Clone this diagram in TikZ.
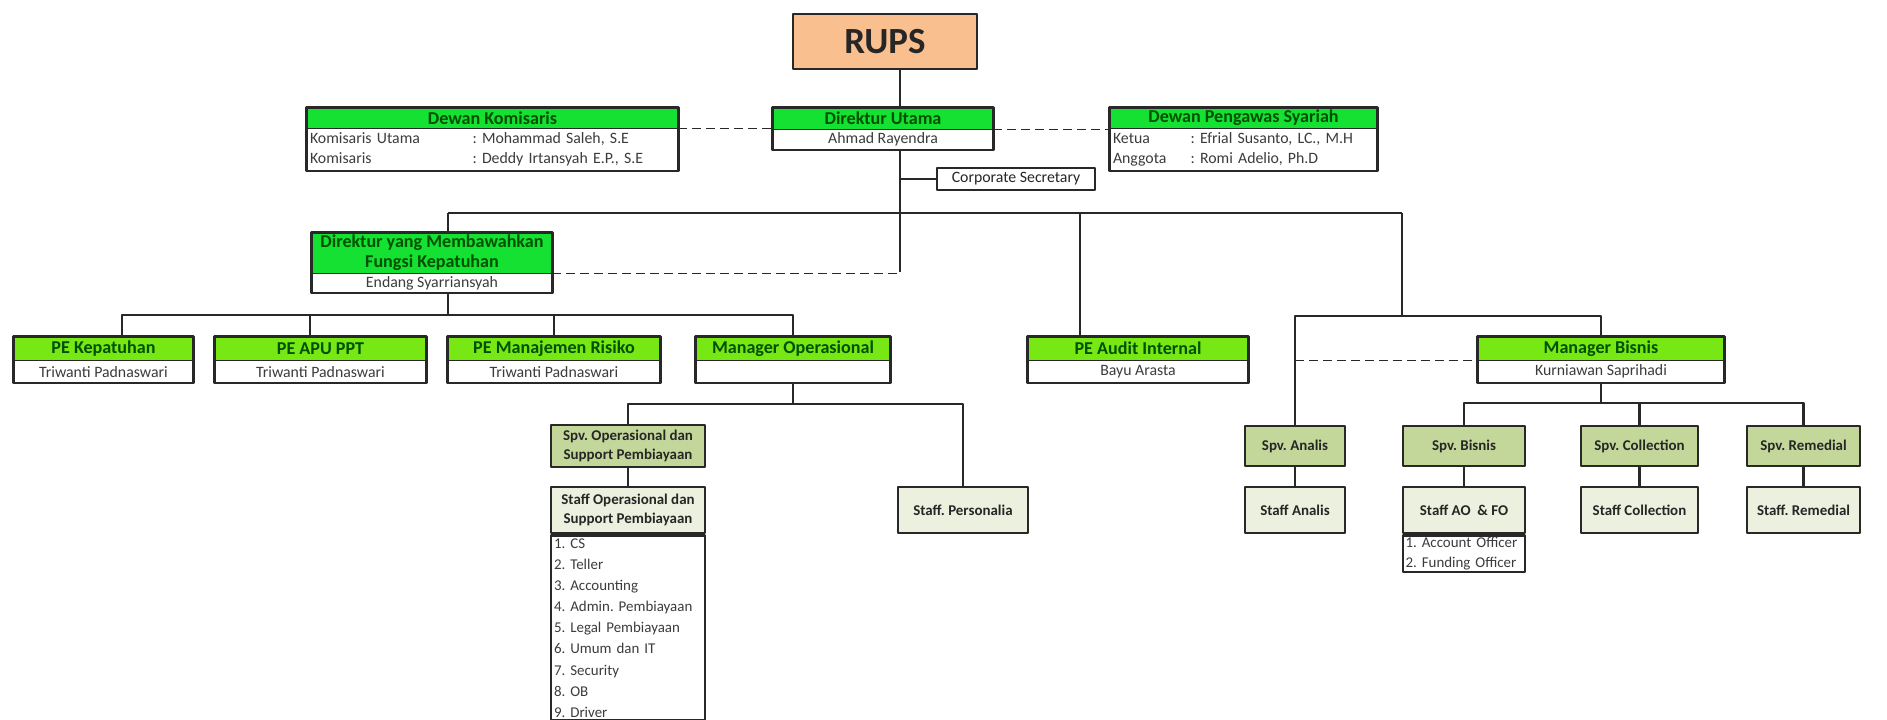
\documentclass[tikz,border=0pt]{standalone}
\usepackage{fontspec}
\setmainfont{Carlito}
\usetikzlibrary{positioning}
\definecolor{oranye}{HTML}{FABF8F}
\definecolor{hijautua}{RGB}{20,225,50}
\definecolor{hijaumuda}{RGB}{120,232,20}
\definecolor{zaitun}{HTML}{C4D79B}
\definecolor{pucat}{HTML}{EBF1DE}
\definecolor{teksijau}{RGB}{0,80,0}
\definecolor{garis}{RGB}{40,40,40}
\definecolor{teksabu}{RGB}{60,60,60}
\frenchspacing

\begin{document}
\begin{tikzpicture}[x=0.02cm, y=-0.02cm, line join=round,
    kepala/.style={draw=garis, line width=0.4pt, inner sep=0pt, text=teksijau,
        font=\fontsize{10.3}{11.4}\selectfont\bfseries, align=center},
    isi/.style={draw=garis, line width=0.4pt, fill=white, inner sep=0pt, text=teksabu,
        font=\fontsize{9}{10}\selectfont},
    spv/.style={draw=garis, line width=1.6pt, fill=zaitun, inner sep=0pt, text=black!85,
        font=\fontsize{8.5}{10.5}\selectfont\bfseries, align=center},
    staf/.style={draw=garis, line width=1.6pt, fill=pucat, inner sep=0pt, text=black!85,
        font=\fontsize{8.5}{10.5}\selectfont\bfseries, align=center},
    bingkai/.style={draw=garis, line width=1.6pt},
    hubung/.style={draw=garis, line width=1.5pt},
    putus/.style={draw=garis, line width=0.9pt, dash pattern=on 0.18cm off 0.1cm}]

    % Define page frame
    \useasboundingbox (0,0) rectangle (1887,720);
    \fill[white] (0,0) rectangle (1887,720);

    % Define spine and bus points
    \coordinate (spine) at (900,0);
    \coordinate (spinebawah) at (900,272);
    \coordinate (busL) at (448,213);
    \coordinate (busR) at (1402,213);
    \coordinate (auditx) at (1080,213);
    \coordinate (rbus) at (1402,316);
    \coordinate (lv2) at (448,315);
    \coordinate (kepx) at (122,315);
    \coordinate (apux) at (310,315);
    \coordinate (opsbus) at (793,404);
    \coordinate (bbus) at (1601,403);

    % RUPS
    \node[draw=garis, line width=1.6pt, fill=oranye, minimum width=3.68cm, minimum height=1.1cm,
        font=\fontsize{21}{21}\selectfont\bfseries, text=black!85] (rups) at (885,41.5) {RUPS};

    % Direktur Utama
    \node[kepala, fill=hijautua, minimum width=4.4cm, minimum height=0.42cm] (duh) at (883,118.5) {Direktur Utama};
    \node[isi, below=0pt of duh, minimum width=4.4cm, minimum height=0.4cm] (dub) {Ahmad Rayendra};
    \draw[bingkai] (duh.north west) rectangle (dub.south east);

    % Dewan Komisaris
    \node[kepala, fill=hijautua, minimum width=7.42cm, minimum height=0.4cm] (dkh) at (492.5,118) {Dewan Komisaris};
    \node[isi, below=0pt of dkh, minimum width=7.42cm, minimum height=0.84cm, text width=7.3cm, align=left,
        font=\fontsize{9}{11.3}\selectfont] (dkb)
        {\makebox[3.25cm][l]{Komisaris Utama}: Mohammad Saleh, S.E\\
         \makebox[3.25cm][l]{Komisaris}: Deddy Irtansyah E.P., S.E};
    \draw[bingkai] (dkh.north west) rectangle (dkb.south east);

    % Dewan Pengawas Syariah
    \node[kepala, fill=hijautua, minimum width=5.34cm, minimum height=0.4cm] (dpsh) at (1243.5,118) {Dewan Pengawas Syariah};
    \node[isi, below=0pt of dpsh, minimum width=5.34cm, minimum height=0.84cm, text width=5.22cm, align=left,
        font=\fontsize{9}{11.3}\selectfont] (dpsb)
        {\makebox[1.55cm][l]{Ketua}: Efrial Susanto, LC., M.H\\
         \makebox[1.55cm][l]{Anggota}: Romi Adelio, Ph.D};
    \draw[bingkai] (dpsh.north west) rectangle (dpsb.south east);

    % Corporate Secretary
    \node[isi, line width=1pt, text=black!85, minimum width=3.16cm, minimum height=0.44cm] (cs) at (1016,179) {Corporate Secretary};

    % Direktur yang Membawahkan Fungsi Kepatuhan
    \node[kepala, fill=hijautua, minimum width=4.8cm, minimum height=0.8cm] (dymh) at (432,253)
        {Direktur yang Membawahkan\\Fungsi Kepatuhan};
    \node[isi, below=0pt of dymh, minimum width=4.8cm, minimum height=0.38cm] (dymb) {Endang Syarriansyah};
    \draw[bingkai] (dymh.north west) rectangle (dymb.south east);

    % Level 2 boxes
    \node[kepala, fill=hijaumuda, minimum width=3.58cm, minimum height=0.46cm] (pekh) at (103.5,348.5) {PE Kepatuhan};
    \node[isi, below=0pt of pekh, minimum width=3.58cm, minimum height=0.44cm] (pekb) {Triwanti Padnaswari};
    \draw[bingkai] (pekh.north west) rectangle (pekb.south east);

    \node[kepala, fill=hijaumuda, minimum width=4.22cm, minimum height=0.46cm] (apuh) at (320.5,348.5) {PE APU PPT};
    \node[isi, below=0pt of apuh, minimum width=4.22cm, minimum height=0.44cm] (apub) {Triwanti Padnaswari};
    \draw[bingkai] (apuh.north west) rectangle (apub.south east);

    \node[kepala, fill=hijaumuda, minimum width=4.24cm, minimum height=0.46cm] (pmrh) at (554,348.5) {PE Manajemen Risiko};
    \node[isi, below=0pt of pmrh, minimum width=4.24cm, minimum height=0.44cm] (pmrb) {Triwanti Padnaswari};
    \draw[bingkai] (pmrh.north west) rectangle (pmrb.south east);

    \node[kepala, fill=hijaumuda, minimum width=3.88cm, minimum height=0.46cm] (moh) at (793,348.5) {Manager Operasional};
    \node[isi, below=0pt of moh, minimum width=3.88cm, minimum height=0.44cm] (mob) {};
    \draw[bingkai] (moh.north west) rectangle (mob.south east);

    \node[kepala, fill=hijaumuda, minimum width=4.4cm, minimum height=0.46cm] (pah) at (1138,348.5) {PE Audit Internal};
    \node[isi, below=0pt of pah, minimum width=4.4cm, minimum height=0.44cm] (pab) {Bayu Arasta};
    \draw[bingkai] (pah.north west) rectangle (pab.south east);

    \node[kepala, fill=hijaumuda, minimum width=4.92cm, minimum height=0.46cm] (mbh) at (1601,348.5) {Manager Bisnis};
    \node[isi, below=0pt of mbh, minimum width=4.92cm, minimum height=0.44cm] (mbb) {Kurniawan Saprihadi};
    \draw[bingkai] (mbh.north west) rectangle (mbb.south east);

    % Operasional branch
    \node[spv, minimum width=3.08cm, minimum height=0.84cm] (spvo) at (628,446)
        {Spv. Operasional dan\\Support Pembiayaan};
    \node[staf, minimum width=3.08cm, minimum height=0.92cm] (stoh) at (628,510)
        {Staff Operasional dan\\Support Pembiayaan};
    \node[isi, line width=1.6pt, below=0pt of stoh, minimum width=3.08cm, text width=2.96cm, align=left,
        inner xsep=0.06cm, inner ysep=0.06cm, font=\fontsize{8.5}{12}\selectfont] (stob)
        {1. CS\\2. Teller\\3. Accounting\\4. Admin. Pembiayaan\\5. Legal Pembiayaan\\6. Umum dan IT\\7. Security\\8. OB\\9. Driver};
    \node[staf, minimum width=2.6cm, minimum height=0.92cm] (stp) at (963,510) {Staff. Personalia};

    % Bisnis branch
    \node[spv, minimum width=2.0cm, minimum height=0.8cm] (spva) at (1295,446) {Spv. Analis};
    \node[spv, minimum width=2.44cm, minimum height=0.8cm] (spvb) at (1464,446) {Spv. Bisnis};
    \node[spv, minimum width=2.34cm, minimum height=0.8cm] (spvc) at (1639.5,446) {Spv. Collection};
    \node[spv, minimum width=2.26cm, minimum height=0.8cm] (spvr) at (1803.5,446) {Spv. Remedial};
    \node[staf, minimum width=2.0cm, minimum height=0.92cm] (sta) at (1295,510) {Staff Analis};
    \node[staf, minimum width=2.44cm, minimum height=0.92cm] (stbh) at (1464,510) {Staff AO \ \& FO};
    \node[isi, line width=1.6pt, below=0pt of stbh, minimum width=2.44cm, text width=2.34cm, align=left,
        inner xsep=0.05cm, inner ysep=0.03cm, font=\fontsize{8.5}{11.5}\selectfont] (stbb)
        {1. Account Officer\\2. Funding Officer};
    \node[staf, minimum width=2.34cm, minimum height=0.92cm] (stc) at (1639.5,510) {Staff Collection};
    \node[staf, minimum width=2.26cm, minimum height=0.92cm] (str) at (1803.5,510) {Staff. Remedial};

    % Draw top connectors
    \draw[hubung] (rups.south -| spine) -- (duh.north -| spine);
    \draw[hubung] (dub.south -| spine) -- (spinebawah);
    \draw[hubung] (cs.west -| spine) -- (cs.west);
    \draw[hubung] (busL) -- (busR);
    \draw[hubung] (busL) -- (dymh.north -| busL);
    \draw[hubung] (auditx) -- (pah.north -| auditx);
    \draw[hubung] (busR) -- (rbus);

    % Draw dashed lines
    \draw[putus] (dkh.south east) -- (dkh.south east -| duh.west);
    \draw[putus] (duh.south east) -- (duh.south east -| dpsh.west);
    \draw[putus] (dymh.south east) -- (dymh.south east -| spine);
    \draw[putus] (mbh.south west -| spva.north) -- (mbh.south west);

    % Draw level 2 connectors
    \draw[hubung] (dymb.south -| busL) -- (lv2);
    \draw[hubung] (pekh.north -| kepx) |- (lv2) -| (moh.north);
    \draw[hubung] (apux) -- (apuh.north -| apux);
    \draw[hubung] (pmrh.north) -- (pmrh.north |- lv2);

    % Draw operasional connectors
    \draw[hubung] (mob.south) -- (opsbus);
    \draw[hubung] (spvo.north) |- (opsbus) -| (stp.north);
    \draw[hubung] (spvo.south) -- (stoh.north);

    % Draw bisnis connectors
    \draw[hubung] (spva.north) |- (rbus) -| (mbh.north);
    \draw[hubung] (mbb.south) -- (bbus);
    \draw[hubung] (spvb.north) |- (bbus) -| (spvr.north);
    \draw[hubung] (spvc.north) -- (spvc.north |- bbus);
    \draw[hubung] (spva.south) -- (sta.north);
    \draw[hubung] (spvb.south) -- (stbh.north);
    \draw[hubung] (spvc.south) -- (stc.north);
    \draw[hubung] (spvr.south) -- (str.north);
\end{tikzpicture}
\end{document}
